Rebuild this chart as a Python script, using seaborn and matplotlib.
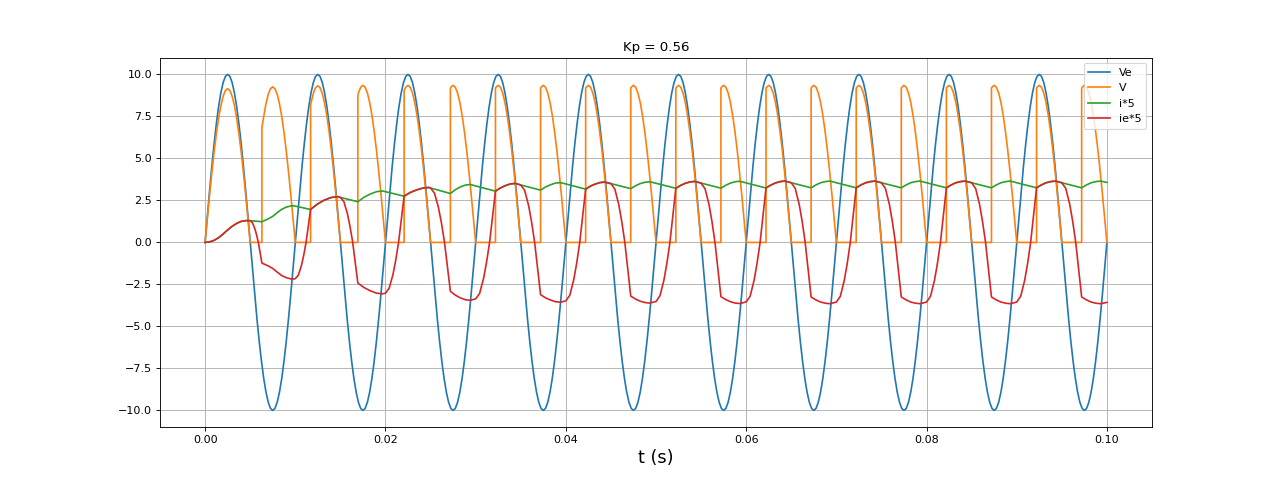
import numpy as np
import matplotlib
matplotlib.use("Agg")
import matplotlib.pyplot as plt
import seaborn as sns

# ---------------- data ----------------
title = "Kp = 0.56"
labels = ["Ve", "V", "i*5", "ie*5"]

# Ve sampled every 0.25 ms from 0 to 0.1 s
ve_t = np.linspace(0.0, 0.1, 401)
ve_val = [
    0, 1.56, 3.09, 4.54, 5.88, 7.07, 8.09, 8.91, 9.51, 9.88, 10, 9.88, 9.51, 8.91, 8.09, 7.07, 5.88, 4.54, 3.09, 1.56, 0, -1.56, -3.09, -4.54, -5.88, -7.07, -8.09, -8.91, -9.51, -9.88, -10, -9.88, -9.51, -8.91, -8.09, -7.07, -5.88, -4.54, -3.09, -1.56,
    0, 1.56, 3.09, 4.54, 5.88, 7.07, 8.09, 8.91, 9.51, 9.88, 10, 9.88, 9.51, 8.91, 8.09, 7.07, 5.88, 4.54, 3.09, 1.56, 0, -1.56, -3.09, -4.54, -5.88, -7.07, -8.09, -8.91, -9.51, -9.88, -10, -9.88, -9.51, -8.91, -8.09, -7.07, -5.88, -4.54, -3.09, -1.56,
    0, 1.56, 3.09, 4.54, 5.88, 7.07, 8.09, 8.91, 9.51, 9.88, 10, 9.88, 9.51, 8.91, 8.09, 7.07, 5.88, 4.54, 3.09, 1.56, 0, -1.56, -3.09, -4.54, -5.88, -7.07, -8.09, -8.91, -9.51, -9.88, -10, -9.88, -9.51, -8.91, -8.09, -7.07, -5.88, -4.54, -3.09, -1.56,
    0, 1.56, 3.09, 4.54, 5.88, 7.07, 8.09, 8.91, 9.51, 9.88, 10, 9.88, 9.51, 8.91, 8.09, 7.07, 5.88, 4.54, 3.09, 1.56, 0, -1.56, -3.09, -4.54, -5.88, -7.07, -8.09, -8.91, -9.51, -9.88, -10, -9.88, -9.51, -8.91, -8.09, -7.07, -5.88, -4.54, -3.09, -1.56,
    0, 1.56, 3.09, 4.54, 5.88, 7.07, 8.09, 8.91, 9.51, 9.88, 10, 9.88, 9.51, 8.91, 8.09, 7.07, 5.88, 4.54, 3.09, 1.56, 0, -1.56, -3.09, -4.54, -5.88, -7.07, -8.09, -8.91, -9.51, -9.88, -10, -9.88, -9.51, -8.91, -8.09, -7.07, -5.88, -4.54, -3.09, -1.56,
    0, 1.56, 3.09, 4.54, 5.88, 7.07, 8.09, 8.91, 9.51, 9.88, 10, 9.88, 9.51, 8.91, 8.09, 7.07, 5.88, 4.54, 3.09, 1.56, 0, -1.56, -3.09, -4.54, -5.88, -7.07, -8.09, -8.91, -9.51, -9.88, -10, -9.88, -9.51, -8.91, -8.09, -7.07, -5.88, -4.54, -3.09, -1.56,
    0, 1.56, 3.09, 4.54, 5.88, 7.07, 8.09, 8.91, 9.51, 9.88, 10, 9.88, 9.51, 8.91, 8.09, 7.07, 5.88, 4.54, 3.09, 1.56, 0, -1.56, -3.09, -4.54, -5.88, -7.07, -8.09, -8.91, -9.51, -9.88, -10, -9.88, -9.51, -8.91, -8.09, -7.07, -5.88, -4.54, -3.09, -1.56,
    0, 1.56, 3.09, 4.54, 5.88, 7.07, 8.09, 8.91, 9.51, 9.88, 10, 9.88, 9.51, 8.91, 8.09, 7.07, 5.88, 4.54, 3.09, 1.56, 0, -1.56, -3.09, -4.54, -5.88, -7.07, -8.09, -8.91, -9.51, -9.88, -10, -9.88, -9.51, -8.91, -8.09, -7.07, -5.88, -4.54, -3.09, -1.56,
    0, 1.56, 3.09, 4.54, 5.88, 7.07, 8.09, 8.91, 9.51, 9.88, 10, 9.88, 9.51, 8.91, 8.09, 7.07, 5.88, 4.54, 3.09, 1.56, 0, -1.56, -3.09, -4.54, -5.88, -7.07, -8.09, -8.91, -9.51, -9.88, -10, -9.88, -9.51, -8.91, -8.09, -7.07, -5.88, -4.54, -3.09, -1.56,
    0, 1.56, 3.09, 4.54, 5.88, 7.07, 8.09, 8.91, 9.51, 9.88, 10, 9.88, 9.51, 8.91, 8.09, 7.07, 5.88, 4.54, 3.09, 1.56, 0, -1.56, -3.09, -4.54, -5.88, -7.07, -8.09, -8.91, -9.51, -9.88, -10, -9.88, -9.51, -8.91, -8.09, -7.07, -5.88, -4.54, -3.09, -1.56,
    0,
]

# V (rectifier output): one row per half period
v_t = [
    0, 0.00025, 0.0005, 0.00075, 0.001, 0.00125, 0.0015, 0.00175, 0.002, 0.00225, 0.0025, 0.00275, 0.003, 0.00325, 0.0035, 0.00375, 0.004, 0.00425, 0.0045, 0.00475, 0.005,
    0.0063, 0.0063, 0.0065, 0.00675, 0.007, 0.00725, 0.0075, 0.00775, 0.008, 0.00825, 0.0085, 0.00875, 0.009, 0.00925, 0.0095, 0.00975, 0.01,
    0.0117, 0.0117, 0.012, 0.01225, 0.0125, 0.01275, 0.013, 0.01325, 0.0135, 0.01375, 0.014, 0.01425, 0.0145, 0.01475, 0.015,
    0.01694, 0.01694, 0.017, 0.01725, 0.0175, 0.01775, 0.018, 0.01825, 0.0185, 0.01875, 0.019, 0.01925, 0.0195, 0.01975, 0.02,
    0.02207, 0.02207, 0.02225, 0.0225, 0.02275, 0.023, 0.02325, 0.0235, 0.02375, 0.024, 0.02425, 0.0245, 0.02475, 0.025,
    0.0272, 0.0272, 0.02725, 0.0275, 0.02775, 0.028, 0.02825, 0.0285, 0.02875, 0.029, 0.02925, 0.0295, 0.02975, 0.03,
    0.0322, 0.0322, 0.03225, 0.0325, 0.03275, 0.033, 0.03325, 0.0335, 0.03375, 0.034, 0.03425, 0.0345, 0.03475, 0.035,
    0.0372, 0.0372, 0.03725, 0.0375, 0.03775, 0.038, 0.03825, 0.0385, 0.03875, 0.039, 0.03925, 0.0395, 0.03975, 0.04,
    0.0422, 0.0422, 0.04225, 0.0425, 0.04275, 0.043, 0.04325, 0.0435, 0.04375, 0.044, 0.04425, 0.0445, 0.04475, 0.045,
    0.0472, 0.0472, 0.04725, 0.0475, 0.04775, 0.048, 0.04825, 0.0485, 0.04875, 0.049, 0.04925, 0.0495, 0.04975, 0.05,
    0.0522, 0.0522, 0.05225, 0.0525, 0.05275, 0.053, 0.05325, 0.0535, 0.05375, 0.054, 0.05425, 0.0545, 0.05475, 0.055,
    0.0572, 0.0572, 0.05725, 0.0575, 0.05775, 0.058, 0.05825, 0.0585, 0.05875, 0.059, 0.05925, 0.0595, 0.05975, 0.06,
    0.0622, 0.0622, 0.06225, 0.0625, 0.06275, 0.063, 0.06325, 0.0635, 0.06375, 0.064, 0.06425, 0.0645, 0.06475, 0.065,
    0.0672, 0.0672, 0.06725, 0.0675, 0.06775, 0.068, 0.06825, 0.0685, 0.06875, 0.069, 0.06925, 0.0695, 0.06975, 0.07,
    0.0722, 0.0722, 0.07225, 0.0725, 0.07275, 0.073, 0.07325, 0.0735, 0.07375, 0.074, 0.07425, 0.0745, 0.07475, 0.075,
    0.0772, 0.0772, 0.07725, 0.0775, 0.07775, 0.078, 0.07825, 0.0785, 0.07875, 0.079, 0.07925, 0.0795, 0.07975, 0.08,
    0.0822, 0.0822, 0.08225, 0.0825, 0.08275, 0.083, 0.08325, 0.0835, 0.08375, 0.084, 0.08425, 0.0845, 0.08475, 0.085,
    0.0872, 0.0872, 0.08725, 0.0875, 0.08775, 0.088, 0.08825, 0.0885, 0.08875, 0.089, 0.08925, 0.0895, 0.08975, 0.09,
    0.0922, 0.0922, 0.09225, 0.0925, 0.09275, 0.093, 0.09325, 0.0935, 0.09375, 0.094, 0.09425, 0.0945, 0.09475, 0.095,
    0.0972, 0.0972, 0.09725, 0.0975, 0.09775, 0.098, 0.09825, 0.0985, 0.09875, 0.099, 0.09925, 0.0995, 0.09975, 0.1,
]
v_val = [
    0, 1.43, 2.83, 4.15, 5.38, 6.47, 7.40, 8.15, 8.70, 9.04, 9.15, 9.04, 8.70, 8.15, 7.40, 6.47, 5.38, 4.15, 2.83, 1.43, 0,
    0, 6.82, 7.49, 8.25, 8.81, 9.15, 9.26, 9.15, 8.81, 8.25, 7.49, 6.55, 5.44, 4.20, 2.86, 1.45, 0,
    0, 8.20, 8.86, 9.21, 9.32, 9.21, 8.86, 8.30, 7.54, 6.59, 5.48, 4.23, 2.88, 1.46, 0,
    0, 8.72, 8.89, 9.23, 9.35, 9.23, 8.89, 8.33, 7.56, 6.61, 5.50, 4.24, 2.89, 1.46, 0,
    0, 9.05, 9.23, 9.35, 9.23, 8.89, 8.33, 7.56, 6.61, 5.50, 4.24, 2.89, 1.46, 0,
    0, 9.18, 9.23, 9.35, 9.23, 8.89, 8.33, 7.56, 6.61, 5.50, 4.24, 2.89, 1.46, 0,
    0, 9.18, 9.23, 9.35, 9.23, 8.89, 8.33, 7.56, 6.61, 5.50, 4.24, 2.89, 1.46, 0,
    0, 9.18, 9.23, 9.35, 9.23, 8.89, 8.33, 7.56, 6.61, 5.50, 4.24, 2.89, 1.46, 0,
    0, 9.18, 9.23, 9.35, 9.23, 8.89, 8.33, 7.56, 6.61, 5.50, 4.24, 2.89, 1.46, 0,
    0, 9.18, 9.23, 9.35, 9.23, 8.89, 8.33, 7.56, 6.61, 5.50, 4.24, 2.89, 1.46, 0,
    0, 9.18, 9.23, 9.35, 9.23, 8.89, 8.33, 7.56, 6.61, 5.50, 4.24, 2.89, 1.46, 0,
    0, 9.18, 9.23, 9.35, 9.23, 8.89, 8.33, 7.56, 6.61, 5.50, 4.24, 2.89, 1.46, 0,
    0, 9.18, 9.23, 9.35, 9.23, 8.89, 8.33, 7.56, 6.61, 5.50, 4.24, 2.89, 1.46, 0,
    0, 9.18, 9.23, 9.35, 9.23, 8.89, 8.33, 7.56, 6.61, 5.50, 4.24, 2.89, 1.46, 0,
    0, 9.18, 9.23, 9.35, 9.23, 8.89, 8.33, 7.56, 6.61, 5.50, 4.24, 2.89, 1.46, 0,
    0, 9.18, 9.23, 9.35, 9.23, 8.89, 8.33, 7.56, 6.61, 5.50, 4.24, 2.89, 1.46, 0,
    0, 9.18, 9.23, 9.35, 9.23, 8.89, 8.33, 7.56, 6.61, 5.50, 4.24, 2.89, 1.46, 0,
    0, 9.18, 9.23, 9.35, 9.23, 8.89, 8.33, 7.56, 6.61, 5.50, 4.24, 2.89, 1.46, 0,
    0, 9.18, 9.23, 9.35, 9.23, 8.89, 8.33, 7.56, 6.61, 5.50, 4.24, 2.89, 1.46, 0,
    0, 9.18, 9.23, 9.35, 9.23, 8.89, 8.33, 7.56, 6.61, 5.50, 4.24, 2.89, 1.46, 0,
]

# i*5 (load current x5)
i_t = [
    0, 0.0005, 0.001, 0.0015, 0.002, 0.0025, 0.003, 0.0035, 0.004, 0.0046, 0.005, 0.0055,
    0.0063, 0.007, 0.0075, 0.008, 0.0085, 0.009, 0.0095, 0.0098, 0.01, 0.0105, 0.011,
    0.0117, 0.01245, 0.0132, 0.01395, 0.0147, 0.015,
    0.01694, 0.01763, 0.01832, 0.01901, 0.0197, 0.02,
    0.02207, 0.02275, 0.02344, 0.02412, 0.0248, 0.025,
    0.0272, 0.02775, 0.0283, 0.02885, 0.0294, 0.03,
    0.0322, 0.03275, 0.0333, 0.03385, 0.0344, 0.035,
    0.0372, 0.03775, 0.0383, 0.03885, 0.0394, 0.04,
    0.0422, 0.04273, 0.04325, 0.04378, 0.0443, 0.045,
    0.0472, 0.04773, 0.04825, 0.04878, 0.0493, 0.05,
    0.0522, 0.05273, 0.05325, 0.05378, 0.0543, 0.055,
    0.0572, 0.05773, 0.05825, 0.05878, 0.0593, 0.06,
    0.0622, 0.06273, 0.06325, 0.06378, 0.0643, 0.065,
    0.0672, 0.06773, 0.06825, 0.06878, 0.0693, 0.07,
    0.0722, 0.07273, 0.07325, 0.07378, 0.0743, 0.075,
    0.0772, 0.07773, 0.07825, 0.07878, 0.0793, 0.08,
    0.0822, 0.08273, 0.08325, 0.08378, 0.0843, 0.085,
    0.0872, 0.08773, 0.08825, 0.08878, 0.0893, 0.09,
    0.0922, 0.09273, 0.09325, 0.09378, 0.0943, 0.095,
    0.0972, 0.09773, 0.09825, 0.09878, 0.0993, 0.1,
]
i_val = [
    0, 0.03, 0.12, 0.28, 0.50, 0.74, 0.96, 1.13, 1.25, 1.30, 1.29, 1.27,
    1.23, 1.40, 1.55, 1.77, 1.97, 2.10, 2.17, 2.18, 2.16, 2.10, 2.04,
    1.96, 2.28, 2.51, 2.67, 2.72, 2.68,
    2.42, 2.69, 2.88, 3.02, 3.06, 3.02,
    2.75, 2.97, 3.12, 3.23, 3.27, 3.24,
    2.91, 3.14, 3.30, 3.41, 3.45, 3.36,
    3.05, 3.24, 3.38, 3.48, 3.51, 3.42,
    3.11, 3.30, 3.43, 3.53, 3.56, 3.48,
    3.17, 3.35, 3.47, 3.56, 3.59, 3.50,
    3.20, 3.37, 3.50, 3.58, 3.61, 3.52,
    3.22, 3.39, 3.52, 3.60, 3.63, 3.53,
    3.23, 3.40, 3.53, 3.61, 3.64, 3.54,
    3.24, 3.41, 3.54, 3.62, 3.65, 3.55,
    3.25, 3.42, 3.55, 3.62, 3.65, 3.55,
    3.25, 3.42, 3.55, 3.62, 3.65, 3.55,
    3.25, 3.42, 3.55, 3.62, 3.65, 3.55,
    3.25, 3.42, 3.55, 3.62, 3.65, 3.55,
    3.25, 3.42, 3.55, 3.62, 3.65, 3.55,
    3.25, 3.42, 3.55, 3.62, 3.65, 3.55,
    3.25, 3.42, 3.55, 3.62, 3.65, 3.57,
]

# ie*5 (source current x5)
ie_t = [
    0, 0.0005, 0.001, 0.0015, 0.002, 0.0025, 0.003, 0.0035, 0.004, 0.0046, 0.005, 0.00526, 0.00552, 0.00572, 0.00591, 0.00611,
    0.0063, 0.007, 0.0075, 0.008, 0.0085, 0.009, 0.0095, 0.0098, 0.01, 0.01034, 0.01068, 0.01094, 0.01119, 0.01145,
    0.0117, 0.01245, 0.0132, 0.01395, 0.0147, 0.015, 0.01539, 0.01578, 0.01607, 0.01636, 0.01665,
    0.01694, 0.01763, 0.01832, 0.01901, 0.0197, 0.02, 0.02041, 0.02083, 0.02114, 0.02145, 0.02176,
    0.02207, 0.02275, 0.02344, 0.02412, 0.0248, 0.025, 0.02544, 0.02588, 0.02621, 0.02654, 0.02687,
    0.0272, 0.02775, 0.0283, 0.02885, 0.0294, 0.03, 0.03044, 0.03088, 0.03121, 0.03154, 0.03187,
    0.0322, 0.03275, 0.0333, 0.03385, 0.0344, 0.035, 0.03544, 0.03588, 0.03621, 0.03654, 0.03687,
    0.0372, 0.03775, 0.0383, 0.03885, 0.0394, 0.04, 0.04044, 0.04088, 0.04121, 0.04154, 0.04187,
    0.0422, 0.04273, 0.04325, 0.04378, 0.0443, 0.045, 0.04544, 0.04588, 0.04621, 0.04654, 0.04687,
    0.0472, 0.04773, 0.04825, 0.04878, 0.0493, 0.05, 0.05044, 0.05088, 0.05121, 0.05154, 0.05187,
    0.0522, 0.05273, 0.05325, 0.05378, 0.0543, 0.055, 0.05544, 0.05588, 0.05621, 0.05654, 0.05687,
    0.0572, 0.05773, 0.05825, 0.05878, 0.0593, 0.06, 0.06044, 0.06088, 0.06121, 0.06154, 0.06187,
    0.0622, 0.06273, 0.06325, 0.06378, 0.0643, 0.065, 0.06544, 0.06588, 0.06621, 0.06654, 0.06687,
    0.0672, 0.06773, 0.06825, 0.06878, 0.0693, 0.07, 0.07044, 0.07088, 0.07121, 0.07154, 0.07187,
    0.0722, 0.07273, 0.07325, 0.07378, 0.0743, 0.075, 0.07544, 0.07588, 0.07621, 0.07654, 0.07687,
    0.0772, 0.07773, 0.07825, 0.07878, 0.0793, 0.08, 0.08044, 0.08088, 0.08121, 0.08154, 0.08187,
    0.0822, 0.08273, 0.08325, 0.08378, 0.0843, 0.085, 0.08544, 0.08588, 0.08621, 0.08654, 0.08687,
    0.0872, 0.08773, 0.08825, 0.08878, 0.0893, 0.09, 0.09044, 0.09088, 0.09121, 0.09154, 0.09187,
    0.0922, 0.09273, 0.09325, 0.09378, 0.0943, 0.095, 0.09544, 0.09588, 0.09621, 0.09654, 0.09687,
    0.0972, 0.09773, 0.09825, 0.09878, 0.0993, 0.1,
]
ie_val = [
    0, 0.03, 0.12, 0.28, 0.50, 0.74, 0.96, 1.13, 1.25, 1.30, 1.29, 1.16, 0.81, 0.43, -0.02, -0.63,
    -1.23, -1.40, -1.55, -1.77, -1.97, -2.10, -2.17, -2.18, -2.16, -1.95, -1.38, -0.76, -0.02, 0.97,
    1.96, 2.28, 2.51, 2.67, 2.72, 2.68, 2.43, 1.71, 0.95, 0.03, -1.20,
    -2.42, -2.69, -2.88, -3.02, -3.06, -3.02, -2.73, -1.92, -1.06, -0.02, 1.37,
    2.75, 2.97, 3.12, 3.23, 3.27, 3.24, 2.93, 2.07, 1.15, 0.04, -1.43,
    -2.91, -3.14, -3.30, -3.41, -3.45, -3.36, -3.04, -2.14, -1.18, -0.03, 1.51,
    3.05, 3.24, 3.38, 3.48, 3.51, 3.42, 3.09, 2.18, 1.20, 0.02, -1.54,
    -3.11, -3.30, -3.43, -3.53, -3.56, -3.48, -3.15, -2.22, -1.22, -0.02, 1.57,
    3.17, 3.35, 3.47, 3.56, 3.59, 3.50, 3.17, 2.23, 1.22, 0.02, -1.59,
    -3.20, -3.37, -3.50, -3.58, -3.61, -3.52, -3.18, -2.24, -1.23, -0.02, 1.60,
    3.22, 3.39, 3.52, 3.60, 3.63, 3.53, 3.19, 2.25, 1.23, 0.01, -1.61,
    -3.23, -3.40, -3.53, -3.61, -3.64, -3.54, -3.20, -2.25, -1.23, -0.01, 1.61,
    3.24, 3.41, 3.54, 3.62, 3.65, 3.55, 3.21, 2.26, 1.24, 0.01, -1.62,
    -3.25, -3.42, -3.55, -3.62, -3.65, -3.55, -3.21, -2.26, -1.24, -0.01, 1.62,
    3.25, 3.42, 3.55, 3.62, 3.65, 3.55, 3.21, 2.26, 1.24, 0.01, -1.62,
    -3.25, -3.42, -3.55, -3.62, -3.65, -3.55, -3.21, -2.26, -1.24, -0.01, 1.62,
    3.25, 3.42, 3.55, 3.62, 3.65, 3.55, 3.21, 2.26, 1.24, 0.01, -1.62,
    -3.25, -3.42, -3.55, -3.62, -3.65, -3.55, -3.21, -2.26, -1.24, -0.01, 1.62,
    3.25, 3.42, 3.55, 3.62, 3.65, 3.55, 3.21, 2.26, 1.24, 0.01, -1.62,
    -3.25, -3.42, -3.55, -3.62, -3.65, -3.57,
]

# ---------------- plot ----------------
fig, ax = plt.subplots(figsize=(16, 6), dpi=80)

series = [(ve_t, ve_val), (v_t, v_val), (i_t, i_val), (ie_t, ie_val)]
colors = ["#1f77b4", "#ff7f0e", "#2ca02c", "#d62728"]
for (tt, vv), lab, col in zip(series, labels, colors):
    sns.lineplot(x=np.asarray(tt, dtype=float), y=np.asarray(vv, dtype=float),
                 estimator=None, sort=False, color=col, label=lab,
                 linewidth=1.5, ax=ax)

ax.set_title(title, fontsize=12)
ax.set_xlabel("t (s)", fontsize=16)
ax.set_ylabel("")
ax.grid(True)
ax.legend(loc="upper right")

fig.savefig("out.png", dpi=80)
